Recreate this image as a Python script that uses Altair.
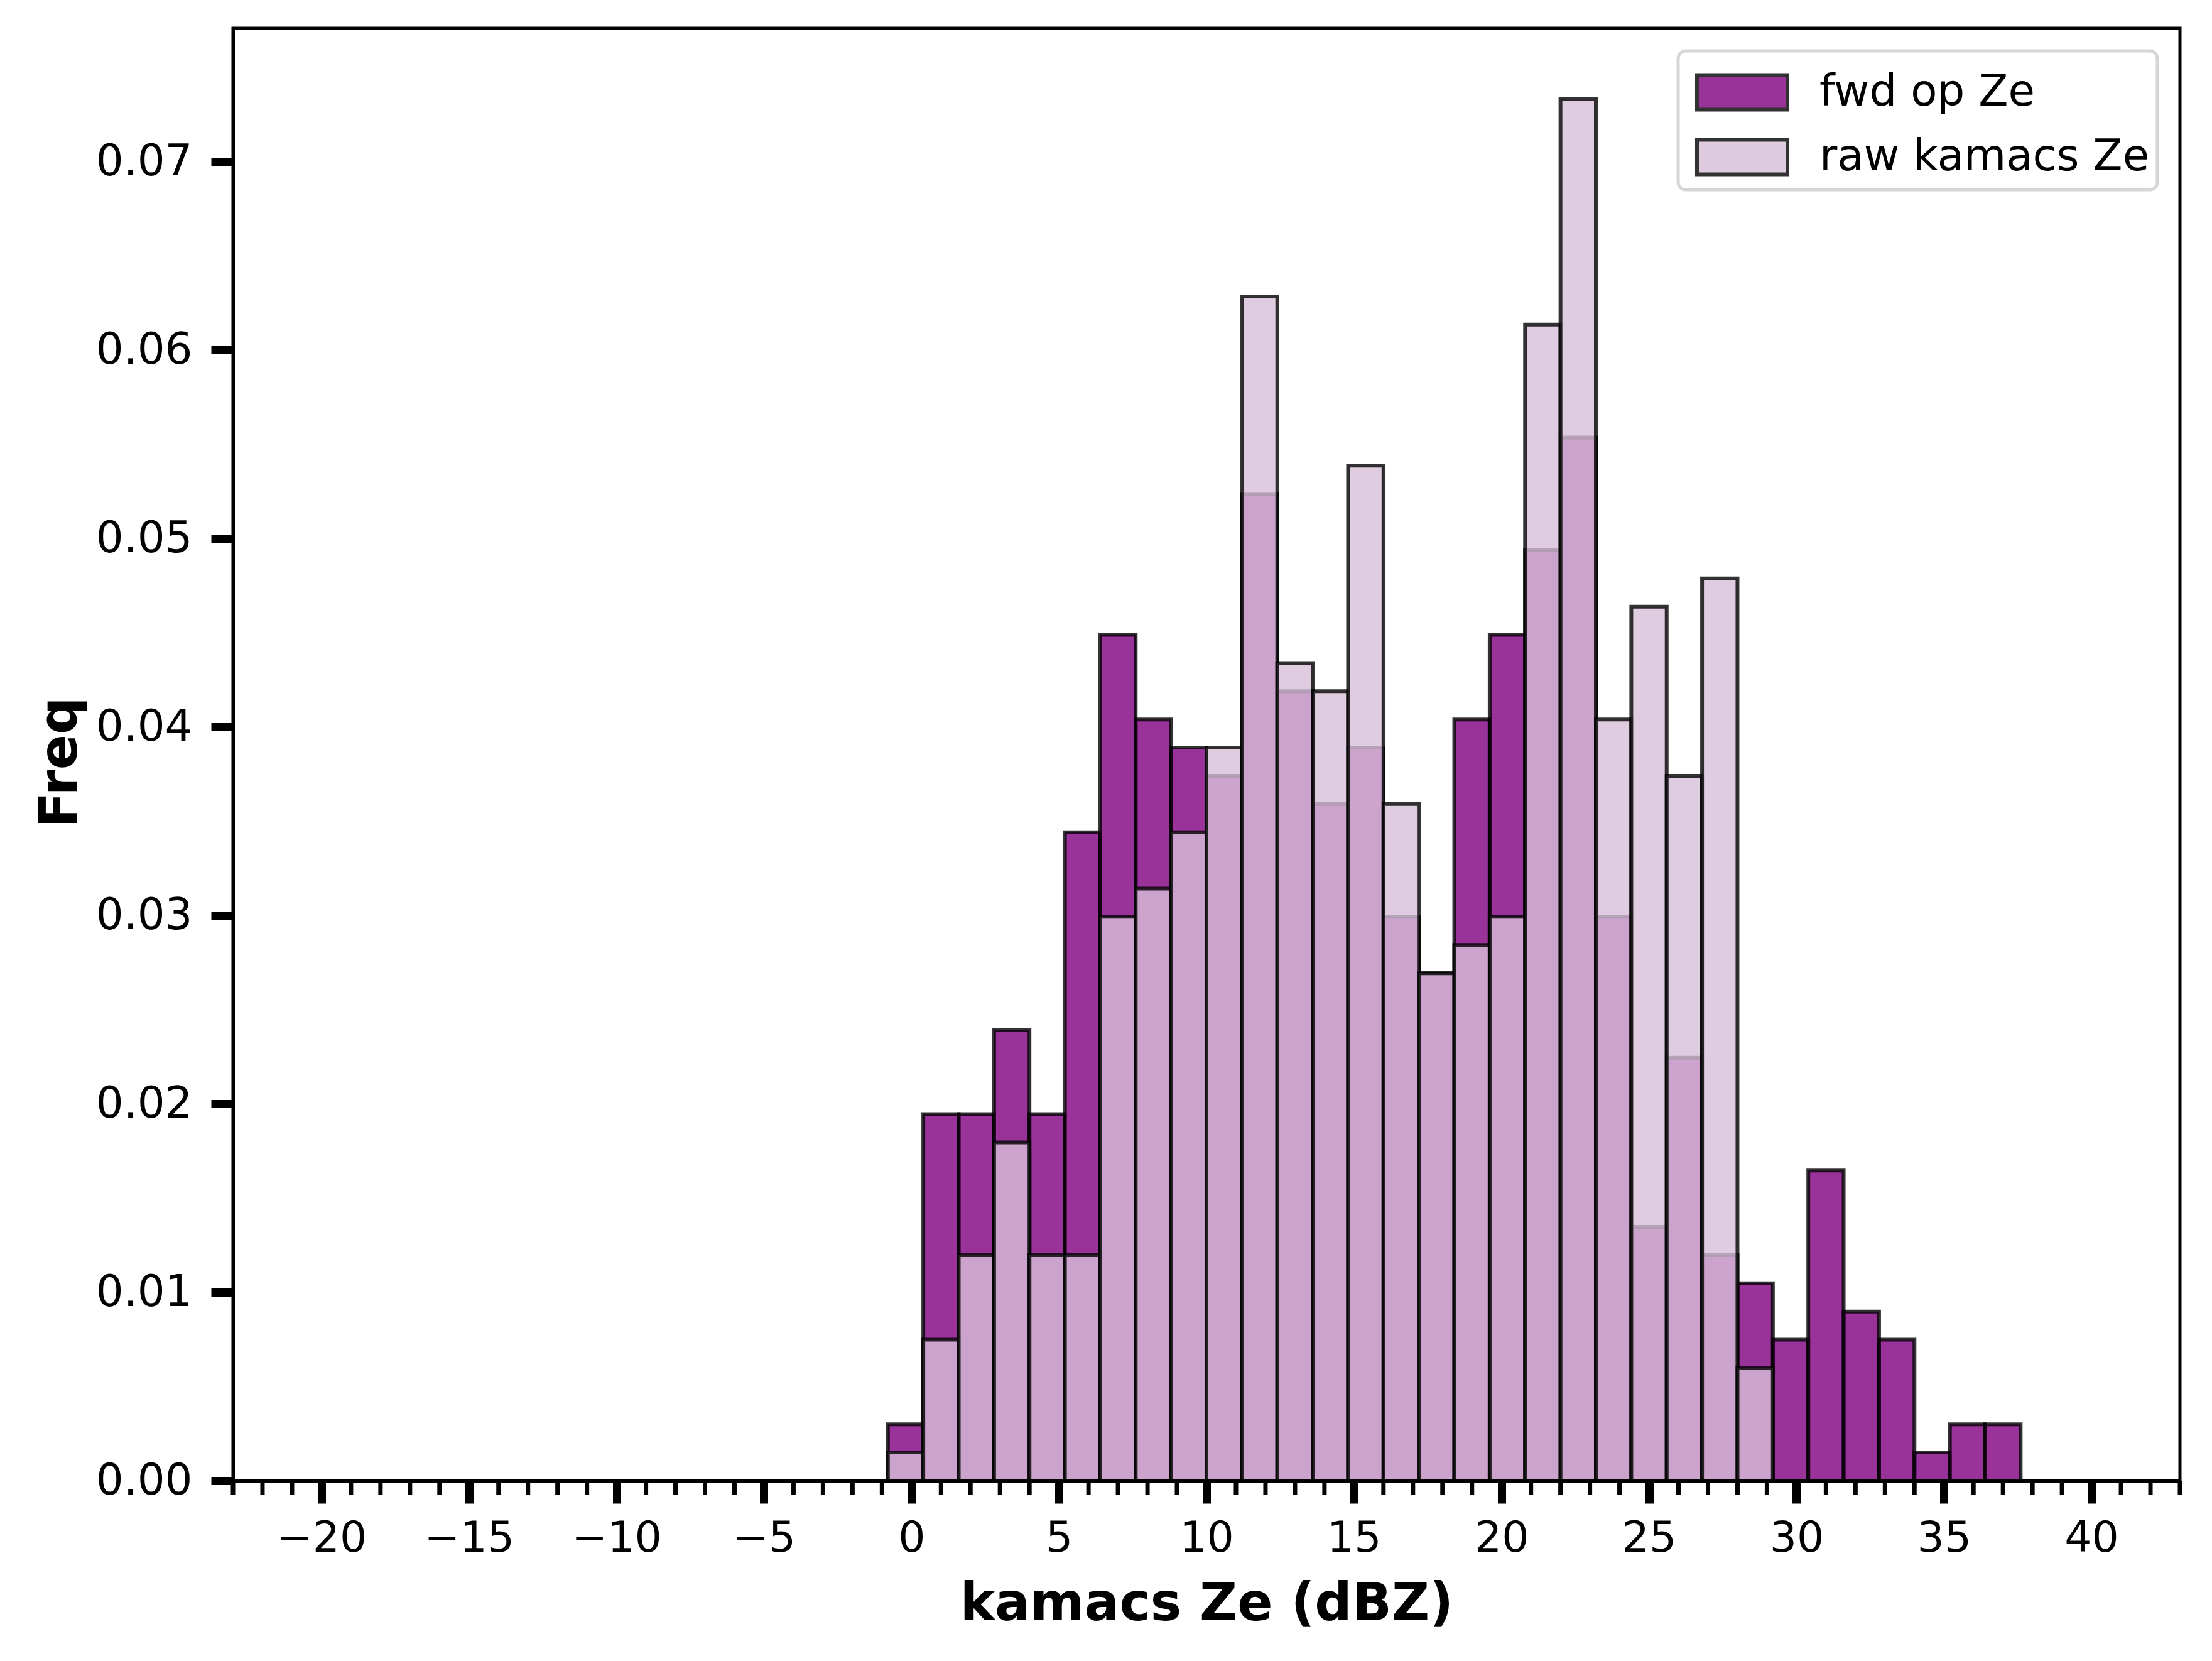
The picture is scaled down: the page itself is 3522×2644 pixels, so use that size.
import altair as alt
import pandas as pd

# histogram bins: edges from -0.8 in steps of 1.2 dBZ
bin_start = [-0.8, 0.4, 1.6, 2.8, 4.0, 5.2, 6.4, 7.6, 8.8, 10.0, 11.2,
             12.4, 13.6, 14.8, 16.0, 17.2, 18.4, 19.6, 20.8, 22.0, 23.2,
             24.4, 25.6, 26.8, 28.0, 29.2, 30.4, 31.6, 32.8, 34.0, 35.2, 36.4]
BIN_W = 1.2

# counts per bin
fwd_counts = [2, 13, 13, 16, 13, 23, 30, 27, 26, 25, 35, 28, 24, 26, 20, 18,
              27, 30, 33, 37, 20, 9, 15, 8, 7, 5, 11, 6, 5, 1, 2, 2]
raw_counts = [1, 5, 8, 12, 8, 8, 20, 21, 23, 26, 42, 29, 28, 36, 24, 18,
              19, 20, 41, 49, 27, 31, 25, 32, 4, 0, 0, 0, 0, 0, 0, 0]

series = ["fwd op Ze", "raw kamacs Ze"]
y_ticks = [0.0, 0.01, 0.02, 0.03, 0.04, 0.05, 0.06, 0.07]
x_ticks = [-20, -15, -10, -5, 0, 5, 10, 15, 20, 25, 30, 35, 40]
minor_ticks = list(range(-23, 44))

W, H = 3100, 2312
FONT = "DejaVu Sans"

rows = []
for name, counts in zip(series, [fwd_counts, raw_counts]):
    n = sum(counts)
    for s, c in zip(bin_start, counts):
        if c > 0:
            rows.append({"series": name, "x0": s, "x1": round(s + BIN_W, 2),
                         "freq": c / (n * BIN_W)})
df = pd.DataFrame(rows)

xscale = alt.Scale(domain=[-23, 43], nice=False, zero=False)
yscale = alt.Scale(domain=[0, 0.07707], nice=False)

bars = alt.Chart(df).mark_bar(
    fillOpacity=0.8, stroke="black", strokeOpacity=0.8, strokeWidth=6
).encode(
    alt.X("x0:Q").scale(xscale)
        .axis(values=x_ticks, tickSize=36, tickWidth=13, labelPadding=22,
              labelFontSize=68, labelFont=FONT, labelColor="black",
              domainColor="black", domainWidth=6, tickColor="black",
              titleFont=FONT, titleFontSize=83, titleFontWeight="bold",
              titleColor="black", titleBaseline="alphabetic",
              titleX=W / 2, titleY=221, grid=False, zindex=1)
        .title("kamacs Ze (dBZ)"),
    alt.X2("x1:Q"),
    alt.Y("freq:Q").scale(yscale).stack(None)
        .axis(values=y_ticks, format=".2f", tickSize=35, tickWidth=13,
              labelPadding=30, labelFontSize=69, labelFont=FONT,
              labelColor="black", domainColor="black", domainWidth=5,
              tickColor="black", titleFont=FONT, titleFontSize=83,
              titleFontWeight="bold", titleColor="black",
              titleBaseline="alphabetic", titleAngle=270, titleAlign="center",
              titleX=-250, titleY=1168, grid=False, zindex=1)
        .title("Freq"),
    y2=alt.datum(0),
    color=alt.Color("series:N")
        .scale(domain=series, range=["purple", "thistle"])
        .legend(title=None, orient="top-right", offset=36,
                symbolType="M-1.412,-0.539L1.412,-0.539L1.412,0.539L-1.412,0.539Z",
                symbolSize=10404, symbolStrokeColor="black",
                symbolStrokeWidth=6, symbolOpacity=0.8, symbolOffset=36,
                labelFont=FONT, labelFontSize=69, labelColor="black",
                labelExpr="datum.label + '\u2002'",
                labelLimit=2000, labelOffset=69, rowPadding=9, padding=12,
                strokeColor="#d6d6d6", cornerRadius=12,
                fillColor="rgba(255,255,255,0.8)"),
)

minor = alt.Chart(pd.DataFrame({"m": minor_ticks})).mark_rule(
    color="black", strokeWidth=7
).encode(
    x=alt.X("m:Q").scale(xscale),
    y=alt.value(H),
    y2=alt.value(H + 23),
)

chart = alt.layer(bars, minor).properties(
    width=W, height=H,
    background="white",
    autosize=alt.AutoSizeParams(type="none"),
    padding={"left": 363, "top": 37, "right": 30, "bottom": 270},
).configure_view(
    stroke="black", strokeWidth=5
).configure_legend(
    strokeWidth=5
)

chart.save("out.html", embed_options={"renderer": "svg", "actions": False})
